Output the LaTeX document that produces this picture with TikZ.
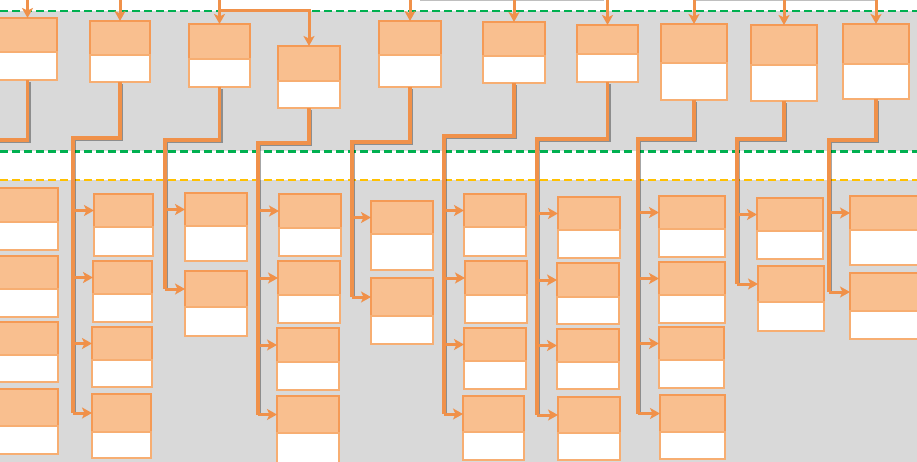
\documentclass[tikz,border=0pt]{standalone}
\usetikzlibrary{arrows.meta}
\definecolor{bggray}{HTML}{D9D9D9}
\definecolor{ofill}{HTML}{F9BF8F}
\definecolor{oline}{HTML}{F59A55}
\definecolor{wline}{HTML}{F7AE72}
\definecolor{conncol}{HTML}{F0914A}
\definecolor{gdash}{HTML}{00B050}
\definecolor{ydash}{HTML}{FFC000}
\newcommand\obox[6]{%
  \pgfmathsetmacro\bw{#3-#2}%
  \pgfmathsetmacro\ha{#5-#4}%
  \pgfmathsetmacro\hb{#6-#5}%
  \pgfmathsetmacro\cx{(#2+#3)/2}%
  \pgfmathsetmacro\cya{(#4+#5)/2}%
  \pgfmathsetmacro\cyb{(#5+#6)/2}%
  \node[otop, minimum width=\bw pt, minimum height=\ha pt] (#1t) at (\cx,\cya) {};
  \node[obot, minimum width=\bw pt, minimum height=\hb pt] (#1b) at (\cx,\cyb) {};
}
\tikzset{
  otop/.style={draw=oline, fill=ofill, line width=1.5pt, inner sep=0pt, outer sep=0pt, rectangle},
  obot/.style={draw=wline, fill=white, line width=1.5pt, inner sep=0pt, outer sep=0pt, rectangle},
  conn/.style={draw=conncol, line width=3.2pt, line join=miter,
    preaction={draw=black, opacity=0.35, line width=3.2pt, transform canvas={shift={(1.5pt,-1.8pt)}}}},
  trunk/.style={draw=conncol, line width=3pt},
  tip/.style={-{Stealth[length=10pt,width=11pt,inset=2.5pt]}},
  branch/.style={draw=conncol, line width=3pt, tip},
  gline/.style={draw=gdash, line width=2.6pt, dash pattern=on 8pt off 4pt},
  yline/.style={draw=ydash, line width=2.6pt, dash pattern=on 8pt off 4pt},
}
\begin{document}
\begin{tikzpicture}[x=1pt,y=-1pt]
\useasboundingbox (0,0) rectangle (917,462);
\clip (0,0) rectangle (917,462);
\fill[white] (0,0) rectangle (917,462);
\fill[bggray] (0,11) rectangle (917,151);
\fill[bggray] (0,180) rectangle (917,462);
\draw[gline] (0,11) -- (917,11);
\draw[gline] (0,151.5) -- (917,151.5);
\draw[yline] (0,180) -- (917,180);
% faint cut-off lines at top
\draw[black!25, line width=2pt] (420,0.5) -- (604,0.5);
\draw[black!25, line width=2pt] (695,0.5) -- (877,0.5);
% ---------- upper boxes ----------
\obox{T1}{-2}{57}{18}{52}{80}
\obox{T2}{90}{150}{21}{55}{82}
\obox{T3}{189}{250}{24}{59}{87}
\obox{T4}{278}{340}{46}{81}{108}
\obox{T5}{379}{441}{21}{55}{87}
\obox{T6}{483}{545}{22}{56}{83}
\obox{T7}{577}{638}{25}{54}{82}
\obox{T8}{661}{727}{24}{63}{100}
\obox{T9}{751}{817}{25}{65}{101}
\obox{T10}{843}{909}{24}{64}{99}
% incoming arrows from above
\foreach \n in {T1,T2,T3,T5,T6,T7,T8,T9,T10}{
  \coordinate (in\n) at (\n t.north |- 0,-2);
  \draw[trunk, tip] (in\n) -- (\n t.north);
}
\coordinate (j4) at (T3t.north |- 0,11);
\draw[trunk, tip] (j4) -| (T4t.north);
% ---------- lower boxes ----------
\obox{L01}{-5}{58}{188}{222}{250}
\obox{L02}{-5}{58}{256}{289}{317}
\obox{L03}{-5}{58}{322}{355}{382}
\obox{L04}{-5}{58}{389}{426}{454}
\obox{B11}{94}{153}{194}{227}{256}
\obox{B12}{93}{152}{261}{294}{322}
\obox{B13}{92}{152}{327}{360}{387}
\obox{B14}{92}{151}{394}{432}{458}
\obox{B21}{185}{247}{193}{226}{261}
\obox{B22}{185}{247}{271}{307}{336}
\obox{B31}{279}{341}{194}{228}{256}
\obox{B32}{278}{340}{261}{295}{323}
\obox{B33}{277}{339}{328}{362}{390}
\obox{B34}{277}{339}{396}{433}{466}
\obox{B41}{371}{433}{201}{234}{270}
\obox{B42}{371}{433}{278}{316}{344}
\obox{B51}{464}{526}{194}{227}{256}
\obox{B52}{465}{527}{261}{295}{323}
\obox{B53}{464}{526}{328}{361}{389}
\obox{B54}{463}{524}{396}{432}{460}
\obox{B61}{558}{620}{197}{230}{258}
\obox{B62}{557}{619}{263}{297}{324}
\obox{B63}{557}{619}{329}{362}{389}
\obox{B64}{558}{620}{397}{433}{460}
\obox{B71}{659}{725}{196}{229}{257}
\obox{B72}{659}{725}{262}{295}{323}
\obox{B73}{659}{724}{327}{360}{388}
\obox{B74}{660}{725}{395}{432}{459}
\obox{B81}{757}{823}{198}{231}{259}
\obox{B82}{758}{824}{266}{302}{331}
\obox{B91}{850}{925}{196}{230}{265}
\obox{B92}{850}{925}{273}{311}{339}
% ---------- connectors ----------
\coordinate (k1) at (-6,140);
\coordinate (k2) at (73,138);
\coordinate (k3) at (165,140);
\coordinate (k4) at (258,143);
\coordinate (k5) at (352,142);
\coordinate (k6) at (444,136);
\coordinate (k7) at (537,139);
\coordinate (k8) at (638,139);
\coordinate (k9) at (737,139);
\coordinate (k10) at (829,140);
\draw[conn] (T1b.south) |- (k1);
\draw[conn] (T2b.south) |- (k2) -- (k2 |- B14t.west);
\draw[conn] (T3b.south) |- (k3) -- (k3 |- B22t.west);
\draw[conn] (T4b.south) |- (k4) -- (k4 |- B34t.west);
\draw[conn] (T5b.south) |- (k5) -- (k5 |- B42t.west);
\draw[conn] (T6b.south) |- (k6) -- (k6 |- B54t.west);
\draw[conn] (T7b.south) |- (k7) -- (k7 |- B64t.west);
\draw[conn] (T8b.south) |- (k8) -- (k8 |- B74t.west);
\draw[conn] (T9b.south) |- (k9) -- (k9 |- B82t.west);
\draw[conn] (T10b.south) |- (k10) -- (k10 |- B92t.west);
% branches
\foreach \b in {B11,B12,B13,B14}{\draw[branch] (k2 |- \b t.west) -- (\b t.west);}
\foreach \b in {B21,B22}{\draw[branch] (k3 |- \b t.west) -- (\b t.west);}
\foreach \b in {B31,B32,B33,B34}{\draw[branch] (k4 |- \b t.west) -- (\b t.west);}
\foreach \b in {B41,B42}{\draw[branch] (k5 |- \b t.west) -- (\b t.west);}
\foreach \b in {B51,B52,B53,B54}{\draw[branch] (k6 |- \b t.west) -- (\b t.west);}
\foreach \b in {B61,B62,B63,B64}{\draw[branch] (k7 |- \b t.west) -- (\b t.west);}
\foreach \b in {B71,B72,B73,B74}{\draw[branch] (k8 |- \b t.west) -- (\b t.west);}
\foreach \b in {B81,B82}{\draw[branch] (k9 |- \b t.west) -- (\b t.west);}
\foreach \b in {B91,B92}{\draw[branch] (k10 |- \b t.west) -- (\b t.west);}
\end{tikzpicture}
\end{document}
